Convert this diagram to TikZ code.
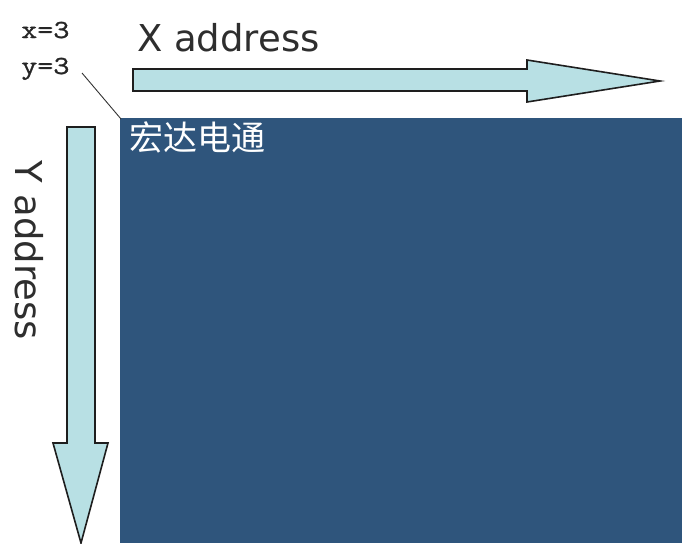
\documentclass[tikz,border=0pt]{standalone}
\usepackage{fontspec}
\setmainfont{DejaVu Sans}
\newfontfamily\cjk{Noto Sans CJK SC}
\newfontfamily\coordmono[FakeBold=1]{Latin Modern Mono}
\definecolor{panelblue}{RGB}{47,85,124}
\definecolor{arrowfill}{RGB}{184,224,228}
\definecolor{arrowline}{RGB}{30,30,30}
\begin{document}
\begin{tikzpicture}[x=1pt,y=-1pt,
  bigarrow/.style={fill=arrowfill,draw=arrowline,line width=1.6pt,line join=miter},
  axislabel/.style={inner sep=0pt,font=\fontsize{37}{40}\selectfont,text=black!82},
  coordlabel/.style={inner sep=0pt,anchor=base west,xscale=1.2,font=\coordmono\fontsize{26}{28}\selectfont,text=black!85}]
\useasboundingbox (0,0) rectangle (682,543);
\fill[white] (0,0) rectangle (682,543);
% panel
\fill[panelblue] (120,118) rectangle (682,543);
\coordinate (corner) at (121,119);
\node[anchor=north west,inner sep=0pt,text=white,font=\cjk\fontsize{34}{36}\selectfont] (brand) at (129,121) {宏达电通};
% X arrow
\draw[bigarrow] (133,69) -- (527,69) -- (527,60) -- (660,81) -- (527,102) -- (527,91) -- (133,91) -- cycle;
\node[axislabel,anchor=base west] (xlab) at (137,52) {X address};
% Y arrow
\draw[bigarrow] (67,127) -- (95,127) -- (95,443) -- (108,443) -- (81,543) -- (53,443) -- (67,443) -- cycle;
\node[axislabel,rotate=-90,anchor=base west] (ylab) at (15,160) {Y address};
% coordinate label
\node[coordlabel] (xval) at (21,38) {x=3};
\node[coordlabel] (yval) at (21,74) {y=3};
\coordinate (lead) at (82,73);
\draw[line width=0.9pt,black!80] (lead) -- (corner);
\end{tikzpicture}
\end{document}
